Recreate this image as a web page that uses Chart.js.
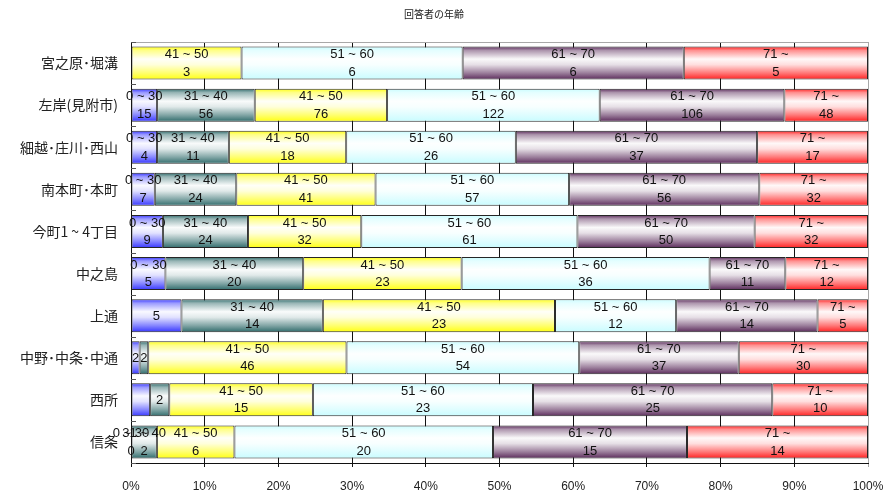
<!DOCTYPE html>
<html>
<head>
<meta charset="utf-8">
<script src="https://cdn.jsdelivr.net/npm/chart.js@4/dist/chart.umd.min.js"></script>
<style>
  html, body { margin: 0; padding: 0; background: #fff; }
  canvas { display: block; }
</style>
</head>
<body>
<canvas id="chart" width="885" height="497"></canvas>
<script>
// Respondent age by district (counts), drawn as 100% stacked horizontal bars
const categories = ['宮之原･堀溝', '左岸(見附市)', '細越･庄川･西山', '南本町･本町', '今町1 ~ 4丁目',
                    '中之島', '上通', '中野･中条･中通', '西所', '信条'];
const seriesNames = ['0 ~ 30', '31 ~ 40', '41 ~ 50', '51 ~ 60', '61 ~ 70', '71 ~'];

const age0to30  = [0, 15,  4,  7,  9,  5,  5,  2,  2,  0];
const age31to40 = [0, 56, 11, 24, 24, 20, 14,  2,  2,  2];
const age41to50 = [3, 76, 18, 41, 32, 23, 23, 46, 15,  6];
const age51to60 = [6, 122, 26, 57, 61, 36, 12, 54, 23, 20];
const age61to70 = [6, 106, 37, 56, 50, 11, 14, 37, 25, 15];
const age71up   = [5, 48, 17, 32, 32, 12,  5, 30, 10, 14];

// Label style per bar: 2 = age range and count, 1 = count only, 0 = no label
const labelMode0to30  = [0, 2, 2, 2, 2, 2, 1, 1, 0, 2];
const labelMode31to40 = [0, 2, 2, 2, 2, 2, 2, 1, 1, 2];
const labelModeFull   = [2, 2, 2, 2, 2, 2, 2, 2, 2, 2];

const xTickValues = [0, 10, 20, 30, 40, 50, 60, 70, 80, 90, 100];

const seriesCounts = [age0to30, age31to40, age41to50, age51to60, age61to70, age71up];
const seriesLabelModes = [labelMode0to30, labelMode31to40, labelModeFull, labelModeFull, labelModeFull, labelModeFull];
const seriesColors = ['#3535ff', '#2f6b6b', '#ffff10', '#c8fcff', '#5a2a5a', '#ff2020'];

const rowTotals = categories.map((_, i) => seriesCounts.reduce((s, arr) => s + arr[i], 0));

const BAR_FRACTION = 0.785;

function mix(hex, t) {
  // blend colour toward white by t (0 = colour, 1 = white)
  const n = parseInt(hex.slice(1), 16);
  const r = (n >> 16) & 255, g = (n >> 8) & 255, b = n & 255;
  const m = c => Math.round(c + (255 - c) * t);
  return `rgb(${m(r)},${m(g)},${m(b)})`;
}

function gradientFill(color) {
  return (ctx) => {
    const chart = ctx.chart;
    const ys = chart.scales.y;
    if (ctx.type !== 'data' || !chart.chartArea || !ys) return color;
    const yc = ys.getPixelForValue(ctx.dataIndex);
    const h = (ys.height / categories.length) * BAR_FRACTION;
    const g = chart.ctx.createLinearGradient(0, yc - h / 2, 0, yc + h / 2);
    g.addColorStop(0, color);
    g.addColorStop(0.12, mix(color, 0.5));
    g.addColorStop(0.38, mix(color, 0.97));
    g.addColorStop(0.55, mix(color, 0.85));
    g.addColorStop(0.8, mix(color, 0.4));
    g.addColorStop(1, color);
    return g;
  };
}

const datasets = seriesNames.map((name, s) => ({
  label: name,
  data: seriesCounts[s].map((v, i) => v / rowTotals[i] * 100),
  counts: seriesCounts[s],
  labelModes: seriesLabelModes[s],
  backgroundColor: gradientFill(seriesColors[s]),
  borderColor: '#262626',
  borderWidth: 1,
  borderSkipped: false,
  barPercentage: BAR_FRACTION,
  categoryPercentage: 1
}));

// Two-line value labels centred on each segment
const segmentLabels = {
  id: 'segmentLabels',
  afterDatasetsDraw(chart) {
    const c = chart.ctx;
    c.save();
    c.font = '13px "Liberation Sans", Arial, sans-serif';
    c.fillStyle = '#111';
    c.textAlign = 'center';
    c.textBaseline = 'middle';
    chart.data.datasets.forEach((ds, s) => {
      const meta = chart.getDatasetMeta(s);
      meta.data.forEach((bar, i) => {
        const mode = ds.labelModes[i];
        if (!mode) return;
        const cx = (bar.x + bar.base) / 2;
        if (mode === 2) {
          c.fillText(ds.label, cx, bar.y - 8.5);
          c.fillText(String(ds.counts[i]), cx, bar.y + 9);
        } else {
          c.fillText(String(ds.counts[i]), cx, bar.y + 1);
        }
      });
    });
    c.restore();
  }
};

// Plot frame (grey top/right edges) and short inward category tick marks
const plotFrame = {
  id: 'plotFrame',
  beforeDatasetsDraw(chart) {
    const { ctx: c, chartArea: a, scales: { y } } = chart;
    c.save();
    c.lineWidth = 1;
    c.strokeStyle = '#a8a8a8';
    c.beginPath();
    c.moveTo(a.left, a.top + 0.5);
    c.lineTo(a.right + 0.5, a.top + 0.5);
    c.lineTo(a.right + 0.5, a.bottom);
    c.stroke();
    c.strokeStyle = '#555';
    const step = y.height / categories.length;
    c.beginPath();
    for (let i = 0; i <= categories.length; i++) {
      const py = Math.round(y.getPixelForValue(i) - step / 2) + 0.5;
      c.moveTo(a.left, py);
      c.lineTo(a.left + 5, py);
    }
    c.stroke();
    c.restore();
  }
};

new Chart(document.getElementById('chart'), {
  type: 'bar',
  data: { labels: categories, datasets },
  plugins: [plotFrame, segmentLabels],
  options: {
    indexAxis: 'y',
    responsive: false,
    animation: false,
    devicePixelRatio: 1,
    layout: { padding: { left: 0, right: 17, top: 0, bottom: 0 } },
    plugins: {
      legend: { display: false },
      tooltip: { enabled: false },
      title: {
        display: true,
        text: '回答者の年齢',
        color: '#222',
        font: { size: 10, family: '"Noto Sans CJK JP", sans-serif', weight: 'normal' },
        padding: { top: 8, bottom: 22 }
      }
    },
    scales: {
      x: {
        stacked: true,
        min: 0,
        max: 100,
        afterBuildTicks(scale) { scale.ticks = xTickValues.map(v => ({ value: v })); },
        afterFit(scale) {
          scale.height = 34;
          scale.paddingLeft = 0;
          scale.paddingRight = 0;
        },
        ticks: {
          callback: v => v + '%',
          color: '#222',
          font: { size: 12, family: '"Liberation Sans", Arial, sans-serif' },
          padding: 12,
          maxRotation: 0
        },
        grid: {
          color: ctx => (ctx.tick && ctx.tick.value === 100) ? '#a8a8a8' : '#111',
          lineWidth: 1,
          tickLength: 4,
          drawTicks: true
        },
        border: { color: '#111', width: 1 }
      },
      y: {
        stacked: true,
        afterFit(scale) { scale.width = 131; },
        ticks: {
          color: '#222',
          font: { size: 14, family: '"Noto Sans CJK JP", sans-serif' },
          padding: 13
        },
        grid: { drawOnChartArea: false, drawTicks: false },
        border: { color: '#111', width: 1 }
      }
    }
  }
});
</script>
</body>
</html>
